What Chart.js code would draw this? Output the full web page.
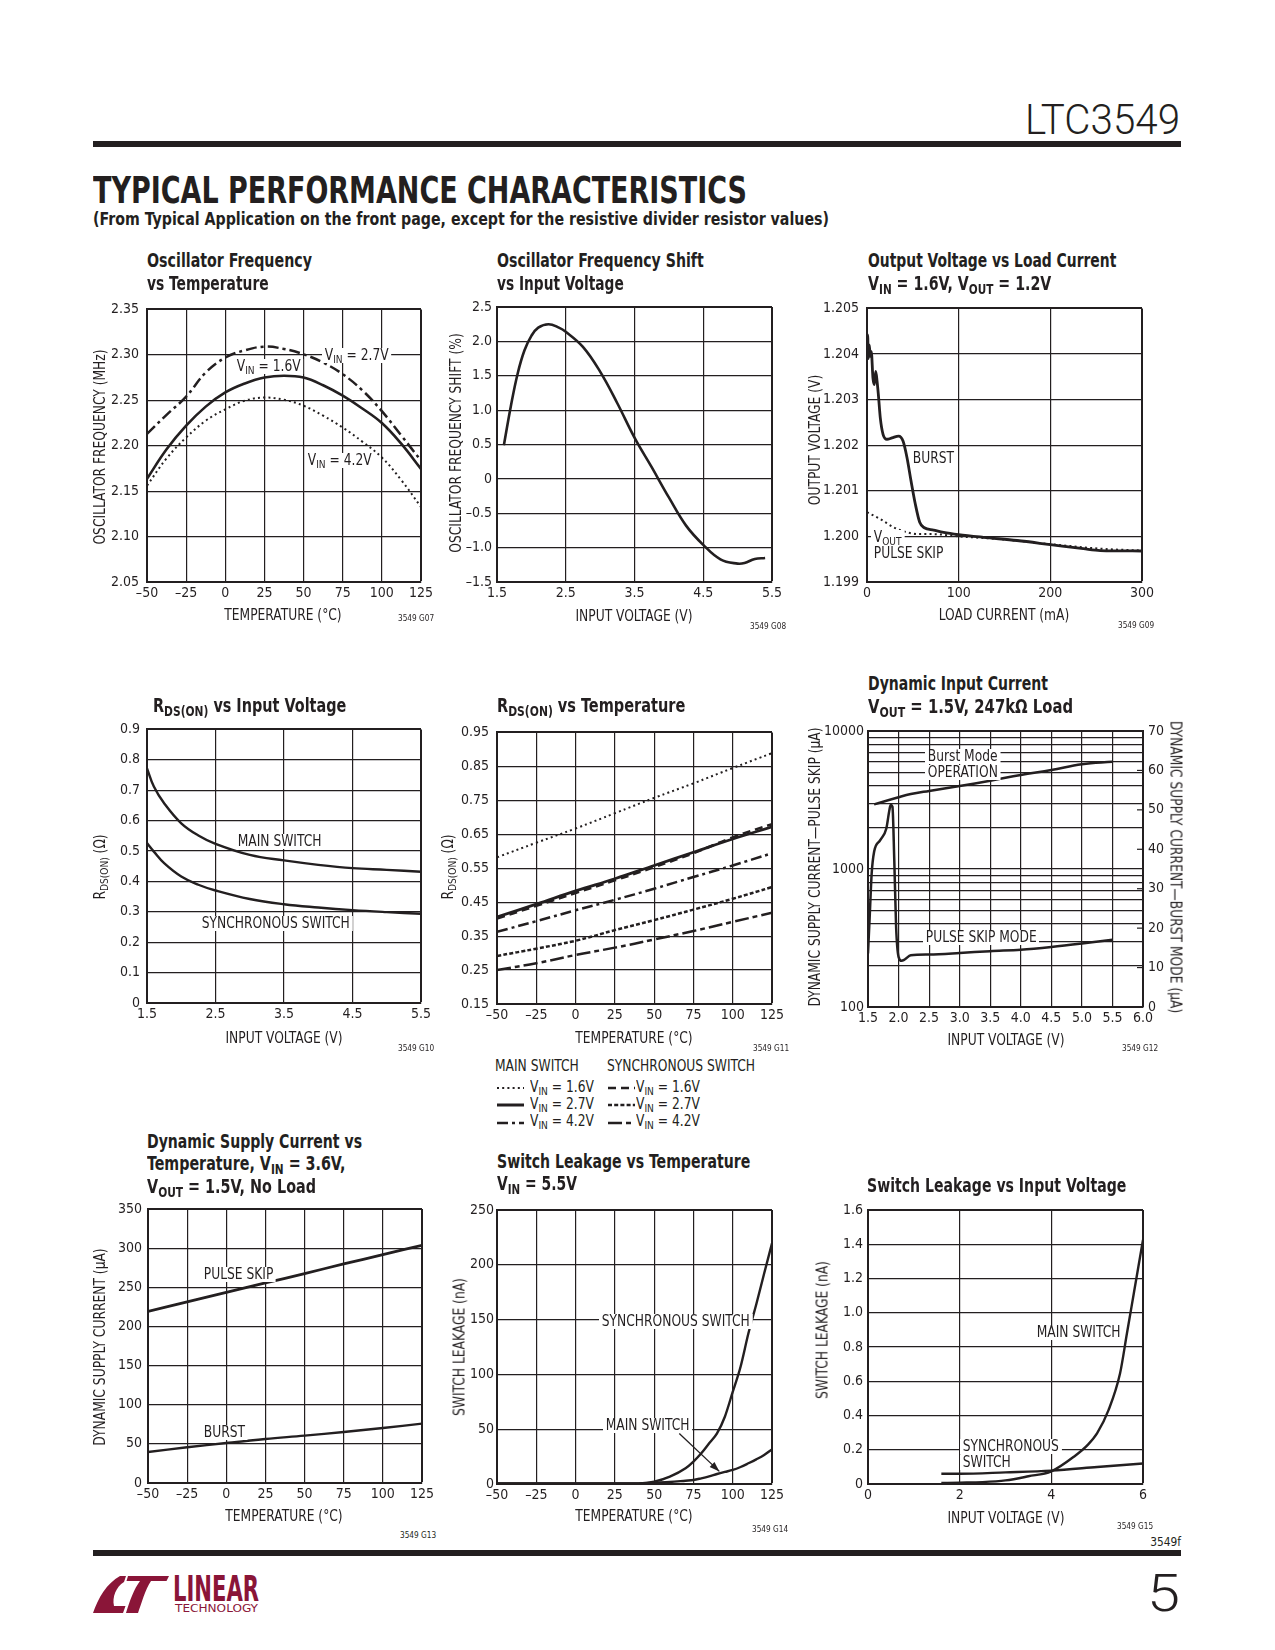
<!DOCTYPE html>
<html><head><meta charset="utf-8">
<title>LTC3549 Typical Performance Characteristics</title>
<script src="https://cdn.jsdelivr.net/npm/chart.js@4.4.1/dist/chart.umd.min.js"></script>
<style>
html,body{margin:0;padding:0;background:#fff}
body{width:1275px;height:1650px;position:relative;overflow:hidden;font-family:"Liberation Sans Narrow","DejaVu Sans Condensed","Arial Narrow",sans-serif;color:#231f20}
.t{position:absolute;white-space:nowrap;line-height:1}
.b{font-weight:bold}
.bg{background:#fff;padding:0 3px}
sub{font-size:0.74em;vertical-align:-0.3em;line-height:0}
canvas{position:absolute}
.bar{position:absolute;background:#231f20}
</style></head><body>
<div class="bar" style="left:93px;top:141px;width:1088px;height:6px"></div>
<div class="bar" style="left:93px;top:1550px;width:1088px;height:6px"></div>
<svg style="position:absolute;left:93px;top:1576px" width="76" height="37" viewBox="0 0 76 37">
  <path fill="#8a1538" d="M0,37 L30,37 L32.5,30 L21,30 C19,21 23,11 31,6 L33,0 L27,0 C14,7 5,22 0,37 Z"/>
  <path fill="#8a1538" d="M35,0 L76,0 L73.5,5 L58,5 C52,14 49,26 45,37 L33,37 C37,24 41,13 47,5 L33.5,5 Z"/>
</svg>
<script>
const INK = '#231f20';
const FONT = '"Liberation Sans Narrow","DejaVu Sans Condensed","Arial Narrow",sans-serif';
const SX = 0.91; // horizontal condensing for HTML text

// ===================== DATA =====================
const tempAxis   = [-50, -25, 0, 25, 50, 75, 100, 125];
const tempLabels = ['–50', '–25', '0', '25', '50', '75', '100', '125'];

// G07 Oscillator frequency vs temperature (MHz)
const g07Temp  = [-50, -37.5, -25, -12.5, 0, 12.5, 25, 37.5, 50, 62.5, 75, 87.5, 100, 112.5, 125];
const g07Vin27 = [2.213, 2.234, 2.254, 2.2805, 2.297, 2.305, 2.309, 2.3065, 2.3006, 2.2915, 2.2787, 2.261, 2.238, 2.211, 2.1836];
const g07Vin16 = [2.1635, 2.196, 2.222, 2.243, 2.2586, 2.2685, 2.275, 2.277, 2.275, 2.2665, 2.255, 2.241, 2.225, 2.202, 2.1744];
const g07Vin42 = [2.156, 2.186, 2.209, 2.2275, 2.240, 2.2495, 2.253, 2.2505, 2.244, 2.233, 2.220, 2.2045, 2.187, 2.162, 2.1325];
const g07YTicks  = [2.05, 2.10, 2.15, 2.20, 2.25, 2.30, 2.35];
const g07YLabels = ['2.05', '2.10', '2.15', '2.20', '2.25', '2.30', '2.35'];

// G08 Oscillator frequency shift vs input voltage (%)
const g08Vin   = [1.6, 1.7, 1.8, 1.9, 2.0, 2.1, 2.25, 2.4, 2.5, 2.75, 3.0, 3.25, 3.5, 3.75, 4.0, 4.25, 4.5, 4.75, 5.0, 5.1, 5.25, 5.4];
const g08Shift = [0.49, 1.05, 1.53, 1.87, 2.08, 2.20, 2.25, 2.20, 2.14, 1.92, 1.56, 1.10, 0.60, 0.17, -0.27, -0.68, -0.96, -1.17, -1.233, -1.224, -1.165, -1.15];
const g08XTicks  = [1.5, 2.5, 3.5, 4.5, 5.5];
const g08XLabels = ['1.5', '2.5', '3.5', '4.5', '5.5'];
const g08YTicks  = [-1.5, -1, -0.5, 0, 0.5, 1, 1.5, 2, 2.5];
const g08YLabels = ['–1.5', '–1.0', '–0.5', '0', '0.5', '1.0', '1.5', '2.0', '2.5'];

// G09 Output voltage vs load current
const g09BurstLoad = [0, 0.7, 1.5, 2.5, 3.6, 4.7, 6.5, 8, 9.5, 11, 12.4, 14.5, 17.5, 21.8, 27.3, 34.5, 39.3, 43.6, 48, 52.7, 57.5, 62.5, 72.7, 83.6, 100, 127, 163.6, 200, 236, 254.5, 300];
const g09BurstVout = [1.20435, 1.20442, 1.2039, 1.2042, 1.20395, 1.20405, 1.20347, 1.20333, 1.20362, 1.2034, 1.20311, 1.2026, 1.20224, 1.20213, 1.20216, 1.2022, 1.20209, 1.20173, 1.20122, 1.20071, 1.20031, 1.20019, 1.20014, 1.20009, 1.20004, 1.19998, 1.19991, 1.19982, 1.19973, 1.19969, 1.19968];
const g09SkipLoad  = [0, 14.5, 29, 43.6, 58, 72.7, 100, 145, 200, 254.5, 300];
const g09SkipVout  = [1.20053, 1.20038, 1.2002, 1.20009, 1.20005, 1.20005, 1.2000, 1.19994, 1.19983, 1.19973, 1.19969];
const g09XTicks  = [0, 100, 200, 300];
const g09XLabels = ['0', '100', '200', '300'];
const g09YTicks  = [1.199, 1.200, 1.201, 1.202, 1.203, 1.204, 1.205];
const g09YLabels = ['1.199', '1.200', '1.201', '1.202', '1.203', '1.204', '1.205'];

// G10 RDS(ON) vs input voltage
const g10Vin  = [1.5, 1.6, 1.75, 2.0, 2.25, 2.5, 3.0, 3.5, 4.0, 4.5, 5.0, 5.5];
const g10Main = [0.772, 0.712, 0.657, 0.591, 0.551, 0.5235, 0.487, 0.469, 0.4545, 0.4436, 0.438, 0.4315];
const g10Sync = [0.526, 0.498, 0.46, 0.416, 0.389, 0.370, 0.342, 0.325, 0.3143, 0.3056, 0.299, 0.2935];
const g10YTicks  = [0, 0.1, 0.2, 0.3, 0.4, 0.5, 0.6, 0.7, 0.8, 0.9];
const g10YLabels = ['0', '0.1', '0.2', '0.3', '0.4', '0.5', '0.6', '0.7', '0.8', '0.9'];

// G11 RDS(ON) vs temperature
const g11Main16 = [0.582, 0.625, 0.667, 0.712, 0.757, 0.800, 0.845, 0.889];
const g11Main27 = [0.4066, 0.444, 0.483, 0.519, 0.558, 0.597, 0.636, 0.672];
const g11Main42 = [0.3627, 0.394, 0.426, 0.457, 0.4895, 0.524, 0.558, 0.594];
const g11Sync16 = [0.402, 0.439, 0.477, 0.514, 0.553, 0.594, 0.641, 0.680];
const g11Sync27 = [0.2915, 0.313, 0.3363, 0.3676, 0.397, 0.428, 0.460, 0.4944];
const g11Sync42 = [0.25, 0.27, 0.2944, 0.316, 0.340, 0.365, 0.392, 0.419];
const g11YTicks  = [0.15, 0.25, 0.35, 0.45, 0.55, 0.65, 0.75, 0.85, 0.95];
const g11YLabels = ['0.15', '0.25', '0.35', '0.45', '0.55', '0.65', '0.75', '0.85', '0.95'];

// G12 Dynamic input current
const g12BurstVin = [1.6, 2.0, 2.2, 2.5, 3.0, 3.5, 4.0, 4.5, 5.0, 5.5];
const g12Burst    = [51.4, 53.2, 54.0, 54.8, 56.05, 57.4, 58.85, 60.1, 61.56, 62.2];
const g12SkipVin  = [1.5, 1.53, 1.56, 1.6, 1.7, 1.8, 1.85, 1.87, 1.9, 1.93, 1.96, 2.0, 2.05, 2.1, 2.2, 2.5, 3.0, 3.5, 4.0, 4.5, 5.0, 5.5];
const g12Skip     = [244, 475, 927, 1334, 1619, 1966, 2671, 2906, 2826, 1159, 380, 231, 216, 221, 237, 240, 246, 254, 260, 272, 288, 307];
const g12XTicks   = [1.5, 2.0, 2.5, 3.0, 3.5, 4.0, 4.5, 5.0, 5.5, 6.0];
const g12XLabels  = ['1.5', '2.0', '2.5', '3.0', '3.5', '4.0', '4.5', '5.0', '5.5', '6.0'];
const g12YTicks   = [100, 200, 300, 400, 500, 600, 700, 800, 900, 1000, 2000, 3000, 4000, 5000, 6000, 7000, 8000, 9000, 10000];
const g12YLabels  = ['100', '', '', '', '', '', '', '', '', '1000', '', '', '', '', '', '', '', '', '10000'];
const g12Y2Ticks  = [0, 10, 20, 30, 40, 50, 60, 70];
const g12Y2Labels = ['0', '10', '20', '30', '40', '50', '60', '70'];

// G13 Dynamic supply current vs temperature
const g13PulseSkip = [219.3, 231.3, 243.6, 255.5, 267.5, 279.8, 291.7, 303.7];
const g13Burst     = [39.6, 45.6, 51.1, 56.2, 60.5, 65.2, 70.3, 75.8];
const g13YTicks  = [0, 50, 100, 150, 200, 250, 300, 350];
const g13YLabels = ['0', '50', '100', '150', '200', '250', '300', '350'];

// G14 Switch leakage vs temperature
const g14Temp = [-50, -25, 0, 25, 40, 50, 60, 70, 75, 80, 85, 90, 95, 100, 105, 110, 115, 120, 125];
const g14Sync = [0.5, 0.5, 0.5, 0.5, 0.6, 2.1, 6.7, 14.3, 20.4, 28, 37.1, 46.2, 61.4, 84, 107, 137.5, 164, 192, 219.6];
const g14Main = [0.5, 0.5, 0.5, 0.5, 0.6, 1.2, 1.8, 3, 3.6, 5.2, 7, 9.1, 11, 12.8, 15.5, 18.9, 22.5, 26.5, 31.6];
const g14ArrowFrom = [66, 46];
const g14ArrowTo   = [91.5, 11.5];
const g14YTicks  = [0, 50, 100, 150, 200, 250];
const g14YLabels = ['0', '50', '100', '150', '200', '250'];

// G15 Switch leakage vs input voltage
const g15MainVin = [1.6, 2, 2.5, 3, 3.5, 4, 4.5, 4.8, 5, 5.25, 5.5, 5.65, 5.75, 5.9, 6];
const g15Main    = [0.006, 0.008, 0.011, 0.021, 0.045, 0.074, 0.161, 0.23, 0.297, 0.433, 0.647, 0.88, 1.036, 1.27, 1.425];
const g15SyncVin = [1.6, 2, 3, 4, 5, 6];
const g15Sync    = [0.060, 0.060, 0.068, 0.078, 0.099, 0.12];
const g15XTicks  = [0, 2, 4, 6];
const g15XLabels = ['0', '2', '4', '6'];
const g15YTicks  = [0, 0.2, 0.4, 0.6, 0.8, 1.0, 1.2, 1.4, 1.6];
const g15YLabels = ['0', '0.2', '0.4', '0.6', '0.8', '1.0', '1.2', '1.4', '1.6'];

// line styles
const SOLID = [], DOT = [2, 3.2], DASHDOT = [11, 4, 3, 4], LDASH = [8, 5], SDASH = [4, 2.2], LSDASH = [14, 4, 5, 4];

// ===================== HELPERS =====================
function sc(ticks, labels, o = {}) {
  const min = ticks[0], max = ticks[ticks.length - 1];
  return {
    type: o.log ? 'logarithmic' : 'linear',
    position: o.pos,
    min, max,
    afterBuildTicks: s => { s.ticks = ticks.map(v => ({ value: v })); },
    ticks: { autoSkip: false, maxRotation: 0, minRotation: 0, color: INK,
             font: { family: FONT, size: 14 }, padding: o.pad ?? 7,
             callback: (v, i) => labels[i] },
    grid: { display: true, drawOnChartArea: o.grid !== false, drawTicks: false, color: INK,
            lineWidth: c => (c.tick && c.tick.value === max) ? 2 : 1.2 },
    border: { color: INK, width: 2 }
  };
}
function ds(xs, ys, w, dash, o = {}) {
  return { data: xs.map((x, i) => ({ x, y: ys[i] })), borderColor: INK, borderWidth: w,
           borderDash: dash || [], pointRadius: 0, fill: false,
           cubicInterpolationMode: o.smooth ? 'default' : 'monotone', tension: o.smooth ? 0.4 : 0,
           yAxisID: o.axis || 'y', borderCapStyle: 'butt', borderJoinStyle: 'round' };
}
const SM = { smooth: true };
function makeChart(box, datasets, scales, plugins = []) {
  const [L, T, R, B] = box;
  const padL = 70, padT = 15, padB = 40;
  const padR = scales.y2 ? 45 : 24;
  const c = document.createElement('canvas');
  const w = R - L + padL + padR, h = B - T + padT + padB;
  c.width = w; c.height = h;
  c.style.left = (L - padL) + 'px'; c.style.top = (T - padT) + 'px';
  c.style.width = w + 'px'; c.style.height = h + 'px';
  document.body.appendChild(c);
  scales.x.afterFit = s => { s.height = padB; };
  scales.x.ticks.padding = 3;
  scales.y.afterFit = s => { s.width = padL; };
  if (scales.y2) scales.y2.afterFit = s => { s.width = padR; };
  return new Chart(c, {
    type: 'line',
    data: { datasets },
    options: {
      responsive: false, animation: false, devicePixelRatio: 1,
      layout: { padding: { top: padT, right: scales.y2 ? 0 : padR, left: 0, bottom: 0 } },
      plugins: { legend: { display: false }, tooltip: { enabled: false } },
      scales
    },
    plugins
  });
}
function put(x, y, html, o = {}) {
  const d = document.createElement('div');
  d.className = 't' + (o.bold ? ' b' : '') + (o.bg ? ' bg' : '');
  d.innerHTML = html;
  const fs = o.size || 15;
  d.style.fontSize = fs + 'px';
  if (o.font) d.style.fontFamily = o.font;
  if (o.weight) d.style.fontWeight = o.weight;
  if (o.color) d.style.color = o.color;
  document.body.appendChild(d);
  const sx = o.sx ?? SX;
  if (o.rot) {
    d.style.left = x + 'px'; d.style.top = y + 'px';
    d.style.transform = `translate(-50%,-50%) rotate(${o.rot}deg) scaleX(${sx})`;
    return d;
  }
  const top = o.base ? y - 0.8465 * fs : y - 0.49 * fs;
  d.style.top = top + 'px';
  let left = x - (o.bg ? 3 : 0);
  if (o.w) {
    const nat = d.getBoundingClientRect().width;
    if (o.align === 'r') left = x - o.w;
    d.style.transformOrigin = 'left center';
    d.style.transform = `scaleX(${o.w / nat})`;
    d.style.left = left + 'px';
    return d;
  }
  d.style.left = left + 'px';
  if (o.align === 'c') { d.style.transform = `translateX(-50%) scaleX(${sx})`; }
  else if (o.align === 'r') { d.style.transformOrigin = 'right center'; d.style.transform = `translateX(-100%) scaleX(${sx})`; }
  else { d.style.transformOrigin = 'left center'; d.style.transform = `scaleX(${sx})`; }
  return d;
}
const arrowPlugin = (from, to) => ({
  id: 'arrow',
  afterDatasetsDraw(chart) {
    const { ctx, scales: { x, y } } = chart;
    const x1 = x.getPixelForValue(from[0]), y1 = y.getPixelForValue(from[1]);
    const x2 = x.getPixelForValue(to[0]), y2 = y.getPixelForValue(to[1]);
    ctx.save(); ctx.strokeStyle = INK; ctx.fillStyle = INK; ctx.lineWidth = 1.3;
    ctx.beginPath(); ctx.moveTo(x1, y1); ctx.lineTo(x2, y2); ctx.stroke();
    const a = Math.atan2(y2 - y1, x2 - x1), Lh = 10, W = 3.5;
    ctx.beginPath(); ctx.moveTo(x2, y2);
    ctx.lineTo(x2 - Lh * Math.cos(a) + W * Math.sin(a), y2 - Lh * Math.sin(a) - W * Math.cos(a));
    ctx.lineTo(x2 - Lh * Math.cos(a) - W * Math.sin(a), y2 - Lh * Math.sin(a) + W * Math.cos(a));
    ctx.closePath(); ctx.fill(); ctx.restore();
  }
});
const innerTicksPlugin = {
  id: 'innerTicks',
  afterDraw(chart) {
    const s = chart.scales.y2; if (!s) return;
    const { ctx } = chart; const r = chart.chartArea.right;
    ctx.save(); ctx.strokeStyle = INK; ctx.lineWidth = 1.2;
    s.ticks.forEach(t => { const yy = s.getPixelForValue(t.value); ctx.beginPath(); ctx.moveTo(r - 6, yy); ctx.lineTo(r, yy); ctx.stroke(); });
    ctx.restore();
  }
};

// ===================== CHARTS =====================
makeChart([147, 308, 421, 582], [
  ds(g07Temp, g07Vin27, 2.5, DASHDOT, SM),
  ds(g07Temp, g07Vin16, 2.6, SOLID, SM),
  ds(g07Temp, g07Vin42, 2, DOT, SM)
], { x: sc(tempAxis, tempLabels), y: sc(g07YTicks, g07YLabels, { pad: 8 }) });

makeChart([497, 307, 772, 582], [
  ds(g08Vin, g08Shift, 2.6, SOLID, SM)
], { x: sc(g08XTicks, g08XLabels), y: sc(g08YTicks, g08YLabels, { pad: 5 }) });

makeChart([867, 307, 1142, 582], [
  ds(g09SkipLoad, g09SkipVout, 2, DOT),
  ds(g09BurstLoad, g09BurstVout, 2.8, SOLID)
], { x: sc(g09XTicks, g09XLabels), y: sc(g09YTicks, g09YLabels, { pad: 8 }) });

makeChart([147, 729, 421, 1003], [
  ds(g10Vin, g10Main, 2.4, SOLID, SM),
  ds(g10Vin, g10Sync, 2.4, SOLID, SM)
], { x: sc(g08XTicks, g08XLabels), y: sc(g10YTicks, g10YLabels, { pad: 7 }) });

makeChart([497, 731, 772, 1004], [
  ds(tempAxis, g11Main16, 2, DOT, SM),
  ds(tempAxis, g11Sync16, 2.5, LDASH, SM),
  ds(tempAxis, g11Main27, 2.8, SOLID, SM),
  ds(tempAxis, g11Main42, 2.5, DASHDOT, SM),
  ds(tempAxis, g11Sync27, 2.5, SDASH, SM),
  ds(tempAxis, g11Sync42, 2.5, LSDASH, SM)
], { x: sc(tempAxis, tempLabels), y: sc(g11YTicks, g11YLabels, { pad: 8 }) });

makeChart([868, 731, 1143, 1007], [
  ds(g12BurstVin, g12Burst, 2.5, SOLID, { axis: 'y2', smooth: true }),
  ds(g12SkipVin, g12Skip, 2.5, SOLID)
], { x: sc(g12XTicks, g12XLabels), y: sc(g12YTicks, g12YLabels, { log: true, pad: 4 }),
     y2: sc(g12Y2Ticks, g12Y2Labels, { pos: 'right', grid: false, pad: 5 }) }, [innerTicksPlugin]);

makeChart([148, 1209, 422, 1483], [
  ds(tempAxis, g13PulseSkip, 2.8, SOLID, SM),
  ds(tempAxis, g13Burst, 2.4, SOLID, SM)
], { x: sc(tempAxis, tempLabels), y: sc(g13YTicks, g13YLabels, { pad: 6 }) });

makeChart([497, 1210, 772, 1484], [
  ds(g14Temp, g14Sync, 2.4, SOLID),
  ds(g14Temp, g14Main, 2.4, SOLID)
], { x: sc(tempAxis, tempLabels), y: sc(g14YTicks, g14YLabels, { pad: 3 }) }, [arrowPlugin(g14ArrowFrom, g14ArrowTo)]);

makeChart([868, 1210, 1143, 1484], [
  ds(g15MainVin, g15Main, 2.4, SOLID),
  ds(g15SyncVin, g15Sync, 2.4, SOLID)
], { x: sc(g15XTicks, g15XLabels), y: sc(g15YTicks, g15YLabels, { pad: 5 }) });

// ===================== TEXT =====================
const VIN = 'V<sub>IN</sub>', VOUT = 'V<sub>OUT</sub>', RDS = 'R<sub>DS(ON)</sub>';
// header / footer
put(1180, 135, 'LTC3549', { base: true, size: 42, font: 'Roboto, "Liberation Sans", sans-serif', weight: 300, w: 155, align: 'r' });
put(93, 203, 'TYPICAL PERFORMANCE CHARACTERISTICS', { base: true, size: 38, font: '"DejaVu Sans Condensed","DejaVu Sans",sans-serif', weight: 900, w: 654 });
put(93, 226, '(From Typical Application on the front page, except for the resistive divider resistor values)', { base: true, size: 17.5, bold: true, w: 736 });
put(1180, 1612, '5', { base: true, size: 52, font: 'Roboto, "Liberation Sans", sans-serif', weight: 300, w: 33, align: 'r' });
put(1181, 1541, '3549f', { size: 13, align: 'r' });
put(172.5, 1601.5, 'LINEAR', { base: true, size: 35, bold: true, color: '#8a1538', w: 86 });
put(174.5, 1612.3, 'TECHNOLOGY', { base: true, size: 11, color: '#8a1538', w: 83 });

// chart titles (left x, baseline y, text, target width)
const titles = [
  [146.7, 267, 'Oscillator Frequency', 165], [146.7, 290, 'vs Temperature', 121.7],
  [496.7, 267, 'Oscillator Frequency Shift', 206.7], [496.7, 290, 'vs Input Voltage', 126.7],
  [868.3, 267, 'Output Voltage vs Load Current', 248.3], [868.3, 290, `${VIN} = 1.6V, ${VOUT} = 1.2V`, 183.3],
  [153.3, 712, `${RDS} vs Input Voltage`, 193.3],
  [497.3, 712, `${RDS} vs Temperature`, 188.3],
  [868.3, 690, 'Dynamic Input Current', 180], [868.3, 712.7, `${VOUT} = 1.5V, 247kΩ Load`, 205],
  [146.7, 1148.3, 'Dynamic Supply Current vs', 215], [146.7, 1170, `Temperature, ${VIN} = 3.6V,`, 198.3],
  [146.7, 1192.7, `${VOUT} = 1.5V, No Load`, 169],
  [496.7, 1168.3, 'Switch Leakage vs Temperature', 253.3], [496.7, 1190, `${VIN} = 5.5V`, 80],
  [866.7, 1191.7, 'Switch Leakage vs Input Voltage', 259.3]
];
titles.forEach(([x, y, s, w]) => put(x, y, s, { base: true, size: 20, bold: true, w }));

// axis titles
put(100, 446.7, 'OSCILLATOR FREQUENCY (MHz)', { rot: -90 });
put(455.7, 443.3, 'OSCILLATOR FREQUENCY SHIFT (%)', { rot: -90 });
put(815, 440, 'OUTPUT VOLTAGE (V)', { rot: -90 });
put(100, 866.7, `${RDS} (Ω)`, { rot: -90 });
put(447.7, 866.7, `${RDS} (Ω)`, { rot: -90 });
put(815, 866.7, 'DYNAMIC SUPPLY CURRENT—PULSE SKIP (µA)', { rot: -90 });
put(1175, 866.7, 'DYNAMIC SUPPLY CURRENT—BURST MODE (µA)', { rot: 90 });
put(100, 1346.7, 'DYNAMIC SUPPLY CURRENT (µA)', { rot: -90 });
put(460, 1346.7, 'SWITCH LEAKAGE (nA)', { rot: -90 });
put(823.3, 1330, 'SWITCH LEAKAGE (nA)', { rot: -90 });
put(283.3, 615, 'TEMPERATURE (°C)', { align: 'c' });
put(634, 616.7, 'INPUT VOLTAGE (V)', { align: 'c' });
put(1004, 615, 'LOAD CURRENT (mA)', { align: 'c' });
put(284, 1038.3, 'INPUT VOLTAGE (V)', { align: 'c' });
put(634, 1038.3, 'TEMPERATURE (°C)', { align: 'c' });
put(1005.7, 1040, 'INPUT VOLTAGE (V)', { align: 'c' });
put(284, 1516.7, 'TEMPERATURE (°C)', { align: 'c' });
put(634, 1516.7, 'TEMPERATURE (°C)', { align: 'c' });
put(1005.7, 1518.3, 'INPUT VOLTAGE (V)', { align: 'c' });

// graph codes
[[398, 618, 'G07'], [750, 626, 'G08'], [1118, 625, 'G09'], [398, 1048, 'G10'], [753, 1048, 'G11'],
 [1121.7, 1048, 'G12'], [400, 1535.7, 'G13'], [751.7, 1529, 'G14'], [1116.7, 1526.7, 'G15']]
  .forEach(([x, y, g]) => put(x, y, '3549 ' + g, { size: 9 }));

// in-plot labels
const LB = { bg: true };
put(325, 355, `${VIN} = 2.7V`, LB);
put(236.7, 366, `${VIN} = 1.6V`, LB);
put(307.7, 460, `${VIN} = 4.2V`, LB);
put(913, 458, 'BURST', LB);
put(874, 537, VOUT, LB);
put(874, 553, 'PULSE SKIP', LB);
put(237.7, 841.7, 'MAIN SWITCH', LB);
put(202, 923.3, 'SYNCHRONOUS SWITCH', LB);
put(927.7, 756.7, 'Burst Mode', LB);
put(927.7, 772.3, 'OPERATION', LB);
put(926, 937.3, 'PULSE SKIP MODE', LB);
put(204, 1274.3, 'PULSE SKIP', LB);
put(204, 1432.7, 'BURST', LB);
put(601.7, 1321.7, 'SYNCHRONOUS SWITCH', LB);
put(606, 1425, 'MAIN SWITCH', LB);
put(1036.7, 1332.7, 'MAIN SWITCH', LB);
put(962.7, 1446, 'SYNCHRONOUS', LB);
put(962.7, 1462.7, 'SWITCH', LB);

// G11 legend
put(495, 1066.7, 'MAIN SWITCH', {});
put(606.7, 1066.7, 'SYNCHRONOUS SWITCH', {});
const legendRows = [1087.3, 1104, 1121.7];
const legendMain = [[DOT, 2, '1.6'], [SOLID, 3, '2.7'], [DASHDOT, 2.5, '4.2']];
const legendSync = [[LDASH, 2.5, '1.6'], [SDASH, 2.5, '2.7'], [LSDASH, 2.5, '4.2']];
function sample(x, y, dash, w) {
  const ns = 'http://www.w3.org/2000/svg';
  const s = document.createElementNS(ns, 'svg');
  s.setAttribute('width', 28); s.setAttribute('height', 8);
  s.style.position = 'absolute'; s.style.left = x + 'px'; s.style.top = (y - 4) + 'px';
  const l = document.createElementNS(ns, 'line');
  l.setAttribute('x1', 0); l.setAttribute('x2', 27); l.setAttribute('y1', 4); l.setAttribute('y2', 4);
  l.setAttribute('stroke', INK); l.setAttribute('stroke-width', w);
  if (dash.length) l.setAttribute('stroke-dasharray', dash.join(' '));
  s.appendChild(l); document.body.appendChild(s);
}
legendRows.forEach((y, i) => {
  sample(496.5, y + 1, legendMain[i][0], legendMain[i][1]);
  put(530, y, `${VIN} = ${legendMain[i][2]}V`, {});
  sample(607.5, y + 1, legendSync[i][0], legendSync[i][1]);
  put(636, y, `${VIN} = ${legendSync[i][2]}V`, {});
});
</script>
</body></html>
